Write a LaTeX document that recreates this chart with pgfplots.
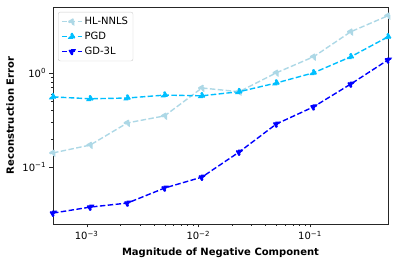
\documentclass[border=0pt]{standalone}
\usepackage{pgfplots}
\pgfplotsset{compat=1.18}
\usepackage{fontspec}
\setmainfont{DejaVu Sans}
\definecolor{hlnnls}{RGB}{173,216,230}
\definecolor{pgdc}{RGB}{0,191,255}
\definecolor{gdc}{RGB}{0,0,255}
\begin{document}
\begin{tikzpicture}
\begin{loglogaxis}[
  name=main,
  scale only axis,
  width=335pt, height=217pt,
  xmin=5e-4, xmax=0.5,
  ymin=0.0248, ymax=5.0,
  xtick={1e-3,1e-2,1e-1},
  xticklabels={10\textsuperscript{−3},10\textsuperscript{−2},10\textsuperscript{−1}},
  ytick={0.1,1},
  yticklabels={10\textsuperscript{−1},10\textsuperscript{0}},
  tick label style={font=\fontsize{10}{12}\selectfont},
  xlabel={\bfseries Magnitude of Negative Component},
  ylabel={\bfseries Reconstruction Error},
  label style={font=\fontsize{10}{12}\selectfont},
  xlabel style={at={(axis description cs:0.5,-0.134)}, anchor=center},
  ylabel style={at={(axis description cs:-0.128,0.5)}, anchor=center},
  axis line style={black!85, line width=0.8pt},
  tick style={black!85},
  major tick length=3.5pt, minor tick length=2pt,
  tick align=outside,
  xtick pos=bottom, ytick pos=left,
  legend style={at={(0.015,0.977)}, anchor=north west, draw=black!20, rounded corners=2pt, font=\fontsize{10}{12}\selectfont, row sep=2pt, inner sep=3pt},
  legend cell align=left,
  legend image code/.code={\draw[mark repeat=2,mark phase=2] plot coordinates {(0pt,0pt) (10pt,0pt) (20pt,0pt)};},
  every axis plot/.append style={line width=1.4pt, dash pattern=on 5.5pt off 2.4pt, mark size=3.4pt, mark options={solid}},
]
\addplot[color=hlnnls, mark=triangle*, mark options={rotate=90, fill=hlnnls}] coordinates {
(5e-4,0.141) (1.077e-3,0.171) (2.321e-3,0.294) (5e-3,0.349) (1.077e-2,0.69) (2.321e-2,0.63) (5e-2,1.0) (0.1077,1.48) (0.2321,2.73) (0.5,4.04)};
\addlegendentry{HL-NNLS}
\addplot[color=pgdc, mark=triangle*, mark options={fill=pgdc}] coordinates {
(5e-4,0.555) (1.077e-3,0.53) (2.321e-3,0.54) (5e-3,0.58) (1.077e-2,0.57) (2.321e-2,0.63) (5e-2,0.78) (0.1077,1.0) (0.2321,1.48) (0.5,2.41)};
\addlegendentry{PGD}
\addplot[color=gdc, mark=triangle*, mark options={rotate=180, fill=gdc}] coordinates {
(5e-4,0.0324) (1.077e-3,0.0375) (2.321e-3,0.0414) (5e-3,0.0598) (1.077e-2,0.078) (2.321e-2,0.144) (5e-2,0.286) (0.1077,0.435) (0.2321,0.76) (0.5,1.37)};
\addlegendentry{GD-3L}
\end{loglogaxis}
\pgfresetboundingbox
\path ([xshift=-53pt,yshift=-42pt]main.south west) rectangle ([xshift=6pt,yshift=7pt]main.north east);
\end{tikzpicture}
\end{document}
